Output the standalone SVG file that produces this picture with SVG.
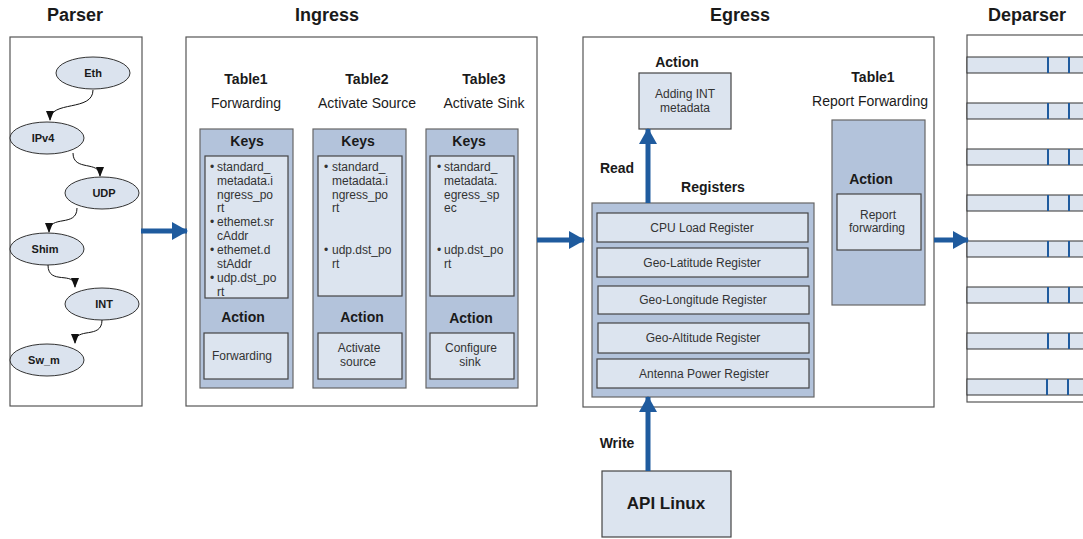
<svg xmlns="http://www.w3.org/2000/svg" width="1083" height="539" viewBox="0 0 1083 539">
<defs>
<style>
text{font-family:"Liberation Sans",Arial,sans-serif;fill:#1a1a1a}
.title{font-size:18px;font-weight:bold;text-anchor:middle}
.hb{font-size:14px;font-weight:bold;text-anchor:middle}
.hn{font-size:14px;text-anchor:middle}
.k{font-size:12px;fill:#333}
.c{font-size:12px;text-anchor:middle;fill:#333}
.el{font-size:11px;font-weight:bold;text-anchor:middle}
.frame{fill:#fff;stroke:#555;stroke-width:1.2}
.outer{fill:#b3c3db;stroke:#666;stroke-width:1.2}
.inner{fill:#dce4ef;stroke:#444;stroke-width:1.2}
.ell{fill:#dbe3ee;stroke:#333;stroke-width:1}
.edge{fill:none;stroke:#111;stroke-width:1}
.flow{fill:none;stroke:#1f5b9e;stroke-width:5}
.strip{fill:#dce4ef;stroke:#333;stroke-width:1}
.div{stroke:#1f5b9e;stroke-width:2}
</style>
<marker id="ah" markerUnits="userSpaceOnUse" markerWidth="10" markerHeight="10" viewBox="0 0 10 10" refX="9" refY="5" orient="auto"><path d="M0,1 L10,5 L0,9 Z" fill="#111"/></marker>
<marker id="bh" markerUnits="userSpaceOnUse" markerWidth="16" markerHeight="18" viewBox="0 0 16 18" refX="15" refY="9" orient="auto"><path d="M0,0 L16,9 L0,18 Z" fill="#1f5b9e"/></marker>
<clipPath id="k1"><rect x="205" y="156" width="83" height="142"/></clipPath>
</defs>

<text class="title" x="75" y="21">Parser</text>
<text class="title" x="327" y="21">Ingress</text>
<text class="title" x="740" y="21">Egress</text>
<text class="title" x="1027" y="21">Deparser</text>

<g id="parser">
<rect class="frame" x="10" y="37" width="132" height="369"/>
<g id="eth"><ellipse class="ell" cx="93" cy="73" rx="37" ry="16"/><text class="el" x="93" y="77">Eth</text></g>
<g id="ipv4"><ellipse class="ell" cx="47" cy="138" rx="37" ry="16"/><text class="el" x="43" y="142">IPv4</text></g>
<g id="udp"><ellipse class="ell" cx="102" cy="193" rx="37" ry="16"/><text class="el" x="104" y="197">UDP</text></g>
<g id="shim"><ellipse class="ell" cx="47" cy="249" rx="37" ry="16"/><text class="el" x="45" y="253">Shim</text></g>
<g id="int"><ellipse class="ell" cx="102" cy="304" rx="37" ry="16"/><text class="el" x="104" y="308">INT</text></g>
<g id="swm"><ellipse class="ell" cx="47" cy="360" rx="37" ry="16"/><text class="el" x="44" y="364">Sw_m</text></g>
</g>

<g id="ingress">
<rect class="frame" x="186" y="37" width="351" height="369"/>
<g id="table1">
<text class="hb" x="246" y="84">Table1</text>
<text class="hn" x="246" y="108">Forwarding</text>
<rect class="outer" x="200" y="129" width="93" height="259"/>
<text class="hb" x="247" y="146">Keys</text>
<rect class="inner" x="205" y="156" width="83" height="142"/>
<g clip-path="url(#k1)">
<text class="k" x="210" y="171">•</text><text class="k" x="217" y="171">standard_</text>
<text class="k" x="217" y="185">metadata.i</text>
<text class="k" x="217" y="199">ngress_po</text>
<text class="k" x="217" y="212">rt</text>
<text class="k" x="210" y="226">•</text><text class="k" x="217" y="226">ethemet.sr</text>
<text class="k" x="217" y="240">cAddr</text>
<text class="k" x="210" y="254">•</text><text class="k" x="217" y="254">ethemet.d</text>
<text class="k" x="217" y="268">stAddr</text>
<text class="k" x="210" y="282">•</text><text class="k" x="217" y="282">udp.dst_po</text>
<text class="k" x="217" y="296">rt</text>
</g>
<text class="hb" x="243" y="322">Action</text>
<rect class="inner" x="204" y="333" width="84" height="46"/>
<text class="c" x="242" y="360">Forwarding</text>
</g>
<g id="table2">
<text class="hb" x="367" y="84">Table2</text>
<text class="hn" x="367" y="108">Activate Source</text>
<rect class="outer" x="313" y="129" width="93" height="259"/>
<text class="hb" x="358" y="146">Keys</text>
<rect class="inner" x="318" y="156" width="84" height="140"/>
<text class="k" x="324" y="171">•</text><text class="k" x="332" y="171">standard_</text>
<text class="k" x="332" y="185">metadata.i</text>
<text class="k" x="332" y="199">ngress_po</text>
<text class="k" x="332" y="212">rt</text>
<text class="k" x="324" y="254">•</text><text class="k" x="332" y="254">udp.dst_po</text>
<text class="k" x="332" y="268">rt</text>
<text class="hb" x="362" y="322">Action</text>
<rect class="inner" x="318" y="333" width="84" height="46"/>
<text class="c" x="359" y="352">Activate</text>
<text class="c" x="358" y="366">source</text>
</g>
<g id="table3">
<text class="hb" x="484" y="84">Table3</text>
<text class="hn" x="484" y="108">Activate Sink</text>
<rect class="outer" x="426" y="129" width="92" height="259"/>
<text class="hb" x="469" y="146">Keys</text>
<rect class="inner" x="430" y="156" width="84" height="140"/>
<text class="k" x="437" y="171">•</text><text class="k" x="444" y="171">standard_</text>
<text class="k" x="444" y="185">metadata.</text>
<text class="k" x="444" y="199">egress_sp</text>
<text class="k" x="444" y="212">ec</text>
<text class="k" x="437" y="254">•</text><text class="k" x="444" y="254">udp.dst_po</text>
<text class="k" x="444" y="268">rt</text>
<text class="hb" x="471" y="323">Action</text>
<rect class="inner" x="430" y="333" width="84" height="46"/>
<text class="c" x="471" y="352">Configure</text>
<text class="c" x="470" y="366">sink</text>
</g>
</g>

<g id="egress">
<rect class="frame" x="583" y="37" width="351" height="370"/>
<g id="adding-int">
<text class="hb" x="677" y="67">Action</text>
<rect class="inner" x="639" y="73" width="92" height="56"/>
<text class="c" x="685" y="98">Adding INT</text>
<text class="c" x="685" y="112">metadata</text>
</g>
<text class="hb" x="617" y="173">Read</text>
<g id="registers">
<text class="hb" x="713" y="192">Registers</text>
<rect class="outer" x="592" y="203" width="222" height="194"/>
<rect class="inner" x="597" y="213" width="211" height="29"/>
<text class="c" x="702" y="232">CPU Load Register</text>
<rect class="inner" x="597" y="248" width="211" height="29"/>
<text class="c" x="702" y="267">Geo-Latitude Register</text>
<rect class="inner" x="598" y="286" width="211" height="28"/>
<text class="c" x="703" y="304">Geo-Longitude Register</text>
<rect class="inner" x="598" y="323" width="211" height="30"/>
<text class="c" x="703" y="342">Geo-Altitude Register</text>
<rect class="inner" x="597" y="359" width="212" height="29"/>
<text class="c" x="704" y="378">Antenna Power Register</text>
</g>
<g id="report-table">
<text class="hb" x="873" y="82">Table1</text>
<text class="hn" x="870" y="106">Report Forwarding</text>
<rect class="outer" x="832" y="120" width="93" height="185"/>
<text class="hb" x="871" y="184">Action</text>
<rect class="inner" x="837" y="194" width="84" height="56"/>
<text class="c" x="878" y="219">Report</text>
<text class="c" x="877" y="232">forwarding</text>
</g>
</g>

<g id="deparser">
<rect class="frame" x="967" y="35" width="130" height="367"/>
<g>
<rect class="strip" x="967" y="57" width="130" height="16"/><line class="div" x1="1048" y1="57" x2="1048" y2="73"/><line class="div" x1="1069" y1="57" x2="1069" y2="73"/>
<rect class="strip" x="967" y="103" width="130" height="16"/><line class="div" x1="1048" y1="103" x2="1048" y2="119"/><line class="div" x1="1069" y1="103" x2="1069" y2="119"/>
<rect class="strip" x="967" y="149" width="130" height="16"/><line class="div" x1="1048" y1="149" x2="1048" y2="165"/><line class="div" x1="1069" y1="149" x2="1069" y2="165"/>
<rect class="strip" x="967" y="195" width="130" height="16"/><line class="div" x1="1048" y1="195" x2="1048" y2="211"/><line class="div" x1="1069" y1="195" x2="1069" y2="211"/>
<rect class="strip" x="967" y="241" width="130" height="16"/><line class="div" x1="1048" y1="241" x2="1048" y2="257"/><line class="div" x1="1069" y1="241" x2="1069" y2="257"/>
<rect class="strip" x="967" y="287" width="130" height="16"/><line class="div" x1="1048" y1="287" x2="1048" y2="303"/><line class="div" x1="1069" y1="287" x2="1069" y2="303"/>
<rect class="strip" x="967" y="333" width="130" height="16"/><line class="div" x1="1048" y1="333" x2="1048" y2="349"/><line class="div" x1="1069" y1="333" x2="1069" y2="349"/>
<rect class="strip" x="967" y="379" width="130" height="16"/><line class="div" x1="1047" y1="379" x2="1047" y2="395"/><line class="div" x1="1068" y1="379" x2="1068" y2="395"/>
</g>
</g>

<g id="api-linux">
<text class="hb" x="617" y="448">Write</text>
<rect class="inner" x="602" y="471" width="129" height="66"/>
<text x="666" y="509" style="font-size:17px;font-weight:bold;text-anchor:middle">API Linux</text>
</g>

<g id="connectors">
<path class="edge" d="M93,90 C93,112 50,100 50,120" marker-end="url(#ah)"/>
<path class="edge" d="M73,153 C73,172 100,160 100,176" marker-end="url(#ah)"/>
<path class="edge" d="M77,208 C77,228 49,214 49,232" marker-end="url(#ah)"/>
<path class="edge" d="M48,265 C48,286 75,270 75,287" marker-end="url(#ah)"/>
<path class="edge" d="M102,320 C102,340 75,326 75,343" marker-end="url(#ah)"/>
<line class="flow" x1="141" y1="231" x2="187" y2="231" marker-end="url(#bh)"/>
<line class="flow" x1="537" y1="240" x2="584" y2="240" marker-end="url(#bh)"/>
<line class="flow" x1="934" y1="240" x2="968" y2="240" marker-end="url(#bh)"/>
<line class="flow" x1="648" y1="203" x2="648" y2="129" marker-end="url(#bh)"/>
<line class="flow" x1="648" y1="471" x2="648" y2="397" marker-end="url(#bh)"/>
</g>
</svg>
